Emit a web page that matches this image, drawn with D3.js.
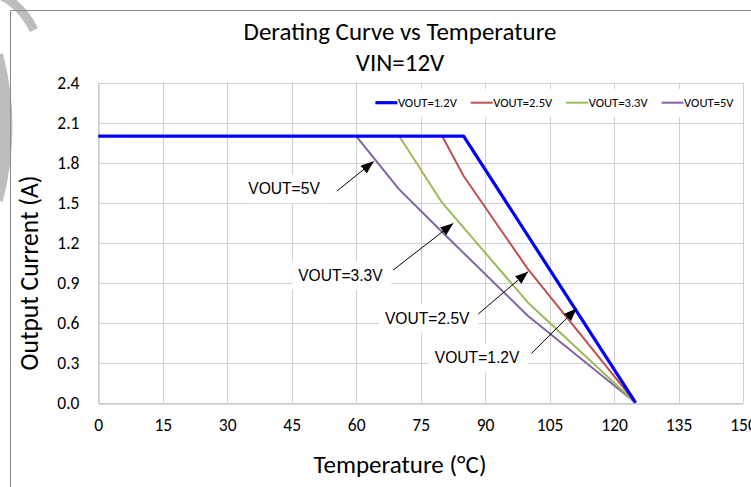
<!DOCTYPE html>
<html>
<head>
<meta charset="utf-8">
<script src="https://cdn.jsdelivr.net/npm/d3@7"></script>
<style>
  body { margin: 0; background: #fff; }
  svg { display: block; }
</style>
</head>
<body>
<svg id="chart" width="751" height="487"></svg>
<script>
//  === Data ===
var seriesNames = ["VOUT=1.2V", "VOUT=2.5V", "VOUT=3.3V", "VOUT=5V"];
var seriesColors = ["#0000FF", "#C0504D", "#9BBB59", "#8064A2"];
var seriesWidths = [3.2, 2, 2, 2];

var temp12 = [0, 85, 125];
var cur12 = [2.0, 2.0, 0.0];
var temp25 = [0, 80, 85, 100, 125];
var cur25 = [2.0, 2.0, 1.7, 1.0, 0.0];
var temp33 = [0, 70, 80, 100, 125];
var cur33 = [2.0, 2.0, 1.5, 0.75, 0.0];
var temp5 = [0, 60, 70, 80, 100, 125];
var cur5 = [2.0, 2.0, 1.6, 1.28, 0.65, 0.0];

var xTicks = [0, 15, 30, 45, 60, 75, 90, 105, 120, 135, 150];
var yTicks = [0.0, 0.3, 0.6, 0.9, 1.2, 1.5, 1.8, 2.1, 2.4];

// callouts (in chart units: temperature, current)
var calloutText = ["VOUT=5V", "VOUT=3.3V", "VOUT=2.5V", "VOUT=1.2V"];
var calloutAt = [[34.9, 1.563], [46.5, 0.913], [66.7, 0.59], [78.3, 0.295]];
var arrowFrom = [[55.5, 1.587], [68.6, 0.995], [88.4, 0.665], [100.8, 0.37]];
var arrowTo = [[64.1, 1.81], [82.6, 1.345], [100.0, 0.983], [111.3, 0.708]];
// /Data

var cfont = "Carlito, Calibri, Lato, sans-serif";
var svg = d3.select("#chart");

var x = d3.scaleLinear().domain([0, 150]).range([98.3, 743]);
var y = d3.scaleLinear().domain([0, 2.4]).range([402.7, 82.7]);

// fit text to a measured width
function fitWidth(sel, w) {
    var l = sel.node().getComputedTextLength();
    var fs = parseFloat(sel.attr("font-size"));
    sel.attr("font-size", fs * w / l);
}

//  === frame + watermark piece ===
svg.append("path")
    .attr("d", "M-4,55 Q15,125 -4,200")
    .attr("fill", "none").attr("stroke", "#bdbdbd").attr("stroke-width", 14);
svg.append("path")
    .attr("d", "M2,-4 Q22,6 34,30")
    .attr("fill", "none").attr("stroke", "#bdbdbd").attr("stroke-width", 9);
svg.append("line").attr("x1", 10.5).attr("y1", 10.5).attr("x2", 10.5).attr("y2", 487)
    .attr("stroke", "#8c8c8c");
svg.append("line").attr("x1", 10.5).attr("y1", 10.5).attr("x2", 751).attr("y2", 10.5)
    .attr("stroke", "#8c8c8c");

//  === grid ===
var grid = svg.append("g");
grid.selectAll(".vg").data(xTicks).enter().append("line")
    .attr("x1", function (d) { return Math.round(x(d)) + 0.5; })
    .attr("x2", function (d) { return Math.round(x(d)) + 0.5; })
    .attr("y1", y(0)).attr("y2", y(2.4))
    .attr("stroke", "#d0d0d0");
grid.selectAll(".hg").data(yTicks).enter().append("line")
    .attr("y1", function (d) { return Math.round(y(d)) + 0.5; })
    .attr("y2", function (d) { return Math.round(y(d)) + 0.5; })
    .attr("x1", x(0)).attr("x2", x(150))
    .attr("stroke", "#d0d0d0");

//  === axes ===
var xAxis = svg.append("g")
    .attr("transform", "translate(0," + (Math.round(y(0)) + 0.5) + ")")
    .call(d3.axisBottom(x).tickValues(xTicks).tickSize(0).tickPadding(15)
        .tickFormat(d3.format("d")));
xAxis.select(".domain").attr("stroke", "#bfbfbf");
xAxis.selectAll("text").attr("font-family", cfont).attr("font-size", 17.5).attr("fill", "#000");

var yAxis = svg.append("g")
    .attr("transform", "translate(" + (Math.round(x(0)) + 0.5) + ",0)")
    .call(d3.axisLeft(y).tickValues(yTicks).tickSize(0).tickPadding(19)
        .tickFormat(d3.format(".1f")));
yAxis.select(".domain").attr("stroke", "#bfbfbf");
yAxis.selectAll("text").attr("font-family", cfont).attr("font-size", 17.5).attr("fill", "#000");

//  === titles ===
var t1 = svg.append("text").attr("x", 400).attr("y", 40).attr("text-anchor", "middle")
    .attr("font-family", cfont).attr("font-size", 20).text("Derating Curve vs Temperature");
fitWidth(t1, 313);
var t2 = svg.append("text").attr("x", 400).attr("y", 71).attr("text-anchor", "middle")
    .attr("font-family", cfont).attr("font-size", t1.attr("font-size")).text("VIN=12V");
var xt = svg.append("text").attr("x", 400).attr("y", 473).attr("text-anchor", "middle")
    .attr("font-family", cfont).attr("font-size", 18).text("Temperature (°C)");
fitWidth(xt, 173);
var yt = svg.append("text").attr("transform", "translate(38,273) rotate(-90)")
    .attr("text-anchor", "middle")
    .attr("font-family", cfont).attr("font-size", 18).text("Output Current (A)");
fitWidth(yt, 195);

//  === callout boxes (white, cover grid) ===
var callouts = svg.append("g");
calloutText.forEach(function (t, i) {
    var g = callouts.append("g");
    var rect = g.append("rect").attr("fill", "#fff");
    var txt = g.append("text")
        .attr("x", x(calloutAt[i][0])).attr("y", y(calloutAt[i][1]))
        .attr("font-family", "'Liberation Sans', Arial, sans-serif")
        .attr("font-size", 15.6).attr("fill", "#000").text(t);
    var b = txt.node().getBBox();
    rect.attr("x", b.x - 6).attr("y", b.y - 6).attr("width", b.width + 14).attr("height", b.height + 12);
});

//  === series ===
var seriesData = [
    d3.zip(temp12, cur12), d3.zip(temp25, cur25), d3.zip(temp33, cur33), d3.zip(temp5, cur5)
];
var line = d3.line().x(function (d) { return x(d[0]); }).y(function (d) { return y(d[1]); });
// draw 5V first so blue sits on top
for (var s = seriesData.length - 1; s >= 0; s--) {
    svg.append("path").datum(seriesData[s])
        .attr("d", line)
        .attr("fill", "none")
        .attr("stroke", seriesColors[s])
        .attr("stroke-width", seriesWidths[s])
        .attr("stroke-linejoin", "round");
}

//  === arrows ===
svg.append("defs").append("marker")
    .attr("id", "arrowhead")
    .attr("viewBox", "0 0 13 10")
    .attr("refX", 13).attr("refY", 5)
    .attr("markerUnits", "userSpaceOnUse")
    .attr("markerWidth", 13).attr("markerHeight", 10)
    .attr("orient", "auto")
    .append("path").attr("d", "M0,0 L13,5 L0,10 z").attr("fill", "#000");
callouts.raise();
arrowFrom.forEach(function (p, i) {
    callouts.append("line")
        .attr("x1", x(p[0])).attr("y1", y(p[1]))
        .attr("x2", x(arrowTo[i][0])).attr("y2", y(arrowTo[i][1]))
        .attr("stroke", "#000").attr("stroke-width", 1)
        .attr("marker-end", "url(#arrowhead)");
});

//  === legend ===
var legend = svg.append("g");
legend.append("rect").attr("x", 368).attr("y", 89).attr("width", 372).attr("height", 28).attr("fill", "#fff");
var lx = 375.4, ly = 102.7;
seriesNames.forEach(function (n, i) {
    legend.append("line").attr("x1", lx).attr("x2", lx + 22).attr("y1", ly).attr("y2", ly)
        .attr("stroke", seriesColors[i]).attr("stroke-width", seriesWidths[i]);
    var lt = legend.append("text").attr("x", lx + 22.5).attr("y", ly + 4.5)
        .attr("font-family", cfont).attr("font-size", 12.6).attr("fill", "#000").text(n);
    lx += 22.5 + lt.node().getComputedTextLength() + 14;
});
</script>
</body>
</html>
